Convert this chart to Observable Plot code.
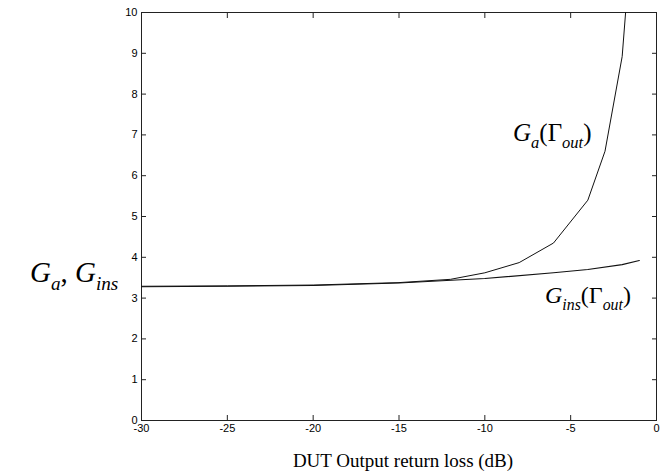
<!DOCTYPE html>
<html>
<head>
<meta charset="utf-8">
<script src="https://cdn.jsdelivr.net/npm/d3@7"></script>
<script src="https://cdn.jsdelivr.net/npm/@observablehq/plot@0.6"></script>
<style>
  html, body { margin: 0; padding: 0; background: #fff; }
  #chart svg { display: block; }
</style>
</head>
<body>
<div id="chart"></div>
<script>
// Return loss values (dB)
const gaLoss   = [-30, -25, -20, -15, -12, -10, -8, -6, -4, -3, -2, -1];
const gaValues = [3.29, 3.30, 3.32, 3.38, 3.46, 3.62, 3.87, 4.35, 5.40, 6.60, 8.92, 14.3];
const ginsLoss   = [-30, -25, -20, -15, -10, -6, -4, -2, -1];
const ginsValues = [3.28, 3.29, 3.31, 3.37, 3.48, 3.62, 3.70, 3.82, 3.92];
const xTicks = [-30, -25, -20, -15, -10, -5, 0];
const yTicks = [0, 1, 2, 3, 4, 5, 6, 7, 8, 9, 10];
const xLabel = "DUT Output return loss (dB)";

const ga = gaLoss.map((x, i) => ({x, y: gaValues[i]}));
const gins = ginsLoss.map((x, i) => ({x, y: ginsValues[i]}));

const plot = Plot.plot({
  width: 661,
  height: 475,
  marginLeft: 141,
  marginRight: 5,
  marginTop: 12,
  marginBottom: 55,
  style: {fontFamily: "Liberation Sans, Arial, sans-serif", fontSize: "11px", background: "#fff", color: "#000"},
  x: {domain: [-30, 0], ticks: xTicks, label: null},
  y: {domain: [0, 10], ticks: yTicks, label: null},
  marks: [
    Plot.frame({stroke: "#222", strokeWidth: 1}),
    Plot.axisX({anchor: "bottom", ticks: xTicks, tickSize: -5, tickPadding: 9, label: null, tickFormat: d => String(d), stroke: "#222"}),
    Plot.axisX({anchor: "top", ticks: xTicks, tickSize: -5, tickFormat: () => "", label: null, stroke: "#222"}),
    Plot.axisY({anchor: "left", ticks: yTicks, tickSize: -5, tickPadding: 9, label: null, tickFormat: d => String(d), stroke: "#222"}),
    Plot.axisY({anchor: "right", ticks: yTicks, tickSize: -5, tickFormat: () => "", label: null, stroke: "#222"}),
    Plot.line(gins, {x: "x", y: "y", stroke: "#111", strokeWidth: 1.1, clip: true}),
    Plot.line(ga, {x: "x", y: "y", stroke: "#111", strokeWidth: 1, clip: true})
  ]
});

document.getElementById("chart").appendChild(plot);

const svg = d3.select(plot);
const serif = "'Liberation Serif', 'Times New Roman', serif";

// x-axis title
svg.append("text")
  .attr("x", 403).attr("y", 467)
  .attr("text-anchor", "middle")
  .style("font-family", serif).style("font-size", "19px").attr("fill", "#000")
  .text(xLabel);

// helper for sub-scripted math labels
function mathLabel(x, y, parts, size) {
  const t = svg.append("text").attr("x", x).attr("y", y)
    .attr("text-anchor", "start")
    .style("font-family", serif).style("font-size", size + "px").attr("fill", "#000");
  parts.forEach(p => {
    const ts = t.append("tspan").text(p.t);
    if (p.i) ts.style("font-style", "italic");
    if (p.sub) ts.style("font-size", (size * 0.66) + "px").attr("dy", size * 0.28);
    if (p.up) ts.attr("dy", -size * 0.28);
  });
  return t;
}

// y-axis title: G_a, G_ins
mathLabel(30, 282, [
  {t: "G", i: true}, {t: "a", i: true, sub: true}, {t: ", ", up: true},
  {t: "G", i: true}, {t: "ins", i: true, sub: true}
], 29);

// G_a(Γ_out)
mathLabel(513, 141, [
  {t: "G", i: true}, {t: "a", i: true, sub: true}, {t: "(Γ", up: true},
  {t: "out", i: true, sub: true}, {t: ")", up: true}
], 25);

// G_ins(Γ_out)
mathLabel(545, 303, [
  {t: "G", i: true}, {t: "ins", i: true, sub: true}, {t: "(Γ", up: true},
  {t: "out", i: true, sub: true}, {t: ")", up: true}
], 24);
</script>
</body>
</html>
